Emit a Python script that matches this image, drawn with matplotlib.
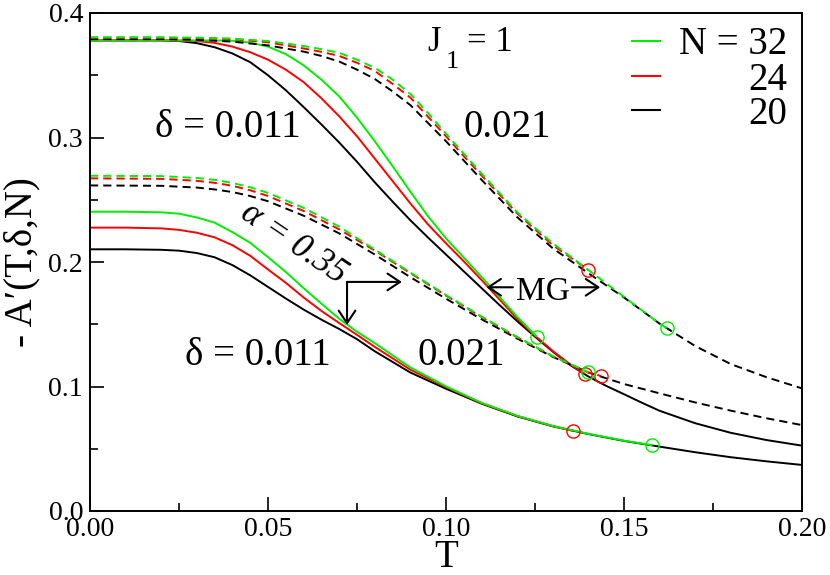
import matplotlib
matplotlib.use('Agg')
import matplotlib.pyplot as plt
from matplotlib.ticker import MultipleLocator, FormatStrFormatter

plt.rcParams['font.family'] = 'serif'
plt.rcParams['font.serif'] = ['Liberation Serif', 'Times New Roman', 'DejaVu Serif']

# ---------------- data ----------------
# MG, delta = 0.011 (solid)
mg_s20_T = [0, 0.02, 0.025, 0.03, 0.035, 0.04, 0.045, 0.05, 0.055, 0.06, 0.065, 0.07, 0.075, 0.08, 0.085, 0.09, 0.095, 0.10, 0.105, 0.11, 0.115, 0.12, 0.125, 0.13, 0.135, 0.14, 0.145, 0.15, 0.155, 0.16, 0.17, 0.18, 0.19, 0.20]
mg_s20_A = [0.378, 0.378, 0.3775, 0.3758, 0.3725, 0.3675, 0.3605, 0.3500, 0.3380, 0.3245, 0.3105, 0.2960, 0.2805, 0.2640, 0.2485, 0.2335, 0.2195, 0.2060, 0.1925, 0.1790, 0.1655, 0.1525, 0.1400, 0.1280, 0.1170, 0.1080, 0.1005, 0.0938, 0.0870, 0.0805, 0.0705, 0.0628, 0.0570, 0.0525]
mg_s24_T = [0, 0.02, 0.03, 0.035, 0.04, 0.045, 0.05, 0.055, 0.06, 0.065, 0.07, 0.075, 0.08, 0.085, 0.09, 0.095, 0.10, 0.105, 0.11, 0.115, 0.12, 0.125, 0.13, 0.135, 0.139]
mg_s24_A = [0.378, 0.378, 0.3775, 0.3760, 0.3730, 0.3685, 0.3625, 0.3545, 0.3445, 0.3315, 0.3170, 0.3010, 0.2830, 0.2650, 0.2470, 0.2300, 0.2150, 0.2005, 0.1855, 0.1700, 0.1545, 0.1408, 0.1285, 0.1175, 0.1102]
mg_s32_T = [0, 0.03, 0.04, 0.045, 0.05, 0.055, 0.06, 0.065, 0.07, 0.075, 0.08, 0.085, 0.09, 0.095, 0.10, 0.105, 0.11, 0.115, 0.12, 0.1255]
mg_s32_A = [0.378, 0.378, 0.3778, 0.3762, 0.3730, 0.3670, 0.3580, 0.3465, 0.3330, 0.3160, 0.2970, 0.2770, 0.2565, 0.2365, 0.2190, 0.2035, 0.1880, 0.1720, 0.1560, 0.1400]

# MG, delta = 0.021 (dashed)
mg_d20_T = [0, 0.02, 0.03, 0.04, 0.05, 0.06, 0.065, 0.07, 0.075, 0.08, 0.085, 0.09, 0.095, 0.10, 0.105, 0.11, 0.12, 0.13, 0.14, 0.15, 0.16, 0.17, 0.18, 0.19, 0.20]
mg_d20_A = [0.379, 0.379, 0.3785, 0.377, 0.374, 0.369, 0.3655, 0.361, 0.3545, 0.347, 0.337, 0.326, 0.3115, 0.297, 0.2815, 0.266, 0.236, 0.211, 0.191, 0.1715, 0.1505, 0.1325, 0.118, 0.1075, 0.0985]
mg_d24_T = [0, 0.02, 0.03, 0.04, 0.05, 0.06, 0.065, 0.07, 0.075, 0.08, 0.085, 0.09, 0.095, 0.10, 0.105, 0.11, 0.12, 0.13, 0.14]
mg_d24_A = [0.3802, 0.3802, 0.3798, 0.379, 0.3765, 0.3715, 0.3688, 0.3655, 0.3600, 0.3535, 0.3430, 0.332, 0.3165, 0.301, 0.2850, 0.2695, 0.239, 0.2135, 0.1936]
mg_d32_T = [0, 0.02, 0.03, 0.04, 0.05, 0.06, 0.065, 0.07, 0.075, 0.08, 0.085, 0.09, 0.095, 0.10, 0.105, 0.11, 0.12, 0.13, 0.14, 0.15, 0.16, 0.162]
mg_d32_A = [0.3805, 0.3805, 0.3802, 0.3795, 0.3775, 0.3735, 0.3710, 0.3680, 0.3625, 0.3560, 0.3465, 0.3350, 0.3195, 0.3030, 0.2870, 0.2710, 0.2400, 0.2150, 0.1936, 0.1720, 0.1505, 0.1468]

# alpha = 0.35, delta = 0.011 (solid)
a_s20_T = [0, 0.01, 0.02, 0.025, 0.03, 0.035, 0.04, 0.045, 0.05, 0.055, 0.06, 0.065, 0.07, 0.075, 0.08, 0.09, 0.10, 0.11, 0.12, 0.13, 0.14, 0.15, 0.16, 0.17, 0.18, 0.19, 0.20]
a_s20_A = [0.2102, 0.2102, 0.2098, 0.2091, 0.2072, 0.2038, 0.1975, 0.1893, 0.1800, 0.1707, 0.1618, 0.1537, 0.1462, 0.1380, 0.1283, 0.1112, 0.0982, 0.0862, 0.0760, 0.0680, 0.0618, 0.0563, 0.0517, 0.0472, 0.0432, 0.0399, 0.0370]
a_s24_T = [0, 0.01, 0.02, 0.025, 0.03, 0.035, 0.04, 0.045, 0.05, 0.055, 0.06, 0.065, 0.07, 0.075, 0.08, 0.09, 0.10, 0.11, 0.12, 0.13, 0.1356]
a_s24_A = [0.2276, 0.2276, 0.2270, 0.2258, 0.2235, 0.2198, 0.2135, 0.2050, 0.1940, 0.1833, 0.1715, 0.1607, 0.1510, 0.1415, 0.1318, 0.1135, 0.0995, 0.0866, 0.0763, 0.0682, 0.0645]
a_s32_T = [0, 0.01, 0.02, 0.025, 0.03, 0.035, 0.04, 0.045, 0.05, 0.055, 0.06, 0.065, 0.07, 0.075, 0.08, 0.09, 0.10, 0.11, 0.12, 0.13, 0.14, 0.15, 0.158]
a_s32_A = [0.2404, 0.2404, 0.2399, 0.2388, 0.2358, 0.2316, 0.2240, 0.2154, 0.2039, 0.1920, 0.1790, 0.1666, 0.1544, 0.1440, 0.1348, 0.1153, 0.1001, 0.0869, 0.0765, 0.0683, 0.0620, 0.0565, 0.0528]

# alpha = 0.35, delta = 0.021 (dashed)
a_d20_T = [0, 0.02, 0.03, 0.035, 0.04, 0.045, 0.05, 0.06, 0.07, 0.08, 0.09, 0.10, 0.11, 0.12, 0.13, 0.14, 0.15, 0.16, 0.17, 0.18, 0.19, 0.20]
a_d20_A = [0.2615, 0.2612, 0.2598, 0.2583, 0.2562, 0.2530, 0.2488, 0.2372, 0.2230, 0.2060, 0.1878, 0.1705, 0.1540, 0.1385, 0.1238, 0.1112, 0.1020, 0.0945, 0.0872, 0.0806, 0.0745, 0.0690]
a_d24_T = [0, 0.02, 0.03, 0.035, 0.04, 0.045, 0.05, 0.06, 0.07, 0.08, 0.09, 0.10, 0.11, 0.12, 0.13, 0.14, 0.1435]
a_d24_A = [0.2672, 0.2668, 0.2652, 0.2636, 0.2612, 0.2576, 0.2530, 0.2410, 0.2262, 0.2092, 0.1910, 0.1730, 0.1558, 0.1395, 0.1242, 0.1113, 0.1085]
a_d32_T = [0, 0.02, 0.03, 0.035, 0.04, 0.045, 0.05, 0.06, 0.07, 0.08, 0.09, 0.10, 0.11, 0.12, 0.13, 0.14]
a_d32_A = [0.2693, 0.2690, 0.2675, 0.2660, 0.2635, 0.2600, 0.2555, 0.2435, 0.2284, 0.2100, 0.1915, 0.1735, 0.1562, 0.1398, 0.1244, 0.1115]

legend_labels = ['N = 32', '24', '20']
x_ticks = [0.00, 0.05, 0.10, 0.15, 0.20]
y_ticks = [0.0, 0.1, 0.2, 0.3, 0.4]

GREEN = '#00ee00'
RED = '#ff0000'
BLACK = '#000000'

# ---------------- figure ----------------
fig = plt.figure(figsize=(8.3, 5.75), dpi=100)
ax = fig.add_axes([90 / 830, 64 / 575, 712 / 830, 498 / 575])

series = [
    (mg_s20_T, mg_s20_A, BLACK, '-', False),
    (mg_s24_T, mg_s24_A, RED, '-', True),
    (mg_s32_T, mg_s32_A, GREEN, '-', True),
    (mg_d20_T, mg_d20_A, BLACK, '--', False),
    (mg_d24_T, mg_d24_A, RED, '--', True),
    (mg_d32_T, mg_d32_A, GREEN, '--', True),
    (a_s20_T, a_s20_A, BLACK, '-', False),
    (a_s24_T, a_s24_A, RED, '-', True),
    (a_s32_T, a_s32_A, GREEN, '-', True),
    (a_d20_T, a_d20_A, BLACK, '--', False),
    (a_d24_T, a_d24_A, RED, '--', True),
    (a_d32_T, a_d32_A, GREEN, '--', True),
]
for T, A, col, ls, mark in series:
    line, = ax.plot(T, A, color=col, lw=1.4, ls=ls, solid_capstyle='butt',
                    solid_joinstyle='round')
    if ls == '--':
        line.set_dashes((4.2, 2.6))
    if mark:
        ax.plot(T[-1], A[-1], 'o', mfc='none', mec=col, ms=9.5, mew=1.0, zorder=5)

ax.set_xlim(0, 0.2)
ax.set_ylim(0, 0.4)
ax.set_xticks(x_ticks)
ax.set_yticks(y_ticks)
ax.xaxis.set_major_formatter(FormatStrFormatter('%.2f'))
ax.yaxis.set_major_formatter(FormatStrFormatter('%.1f'))
ax.xaxis.set_minor_locator(MultipleLocator(0.025))
ax.yaxis.set_minor_locator(MultipleLocator(0.05))
ax.tick_params(which='both', direction='in', top=False, right=False, width=1.2, labelsize=20)
ax.tick_params(which='major', length=10)
ax.tick_params(which='minor', length=5.8)
ax.tick_params(axis='y', pad=5)
ax.tick_params(axis='x', pad=4)
for sp in ax.spines.values():
    sp.set_linewidth(1.4)

ax.set_xlabel('T', fontsize=28)
ax.xaxis.set_label_coords(0.5, -0.056)
ax.set_ylabel('- A\u2032(T,\u03b4,N)', fontsize=28,
              family=['Liberation Serif', 'DejaVu Serif'])
ax.yaxis.set_label_coords(-0.070, 0.5)

# annotations
ax.text(0.0183, 0.3004, '\u03b4 = 0.011', fontsize=28, ha='left', va='baseline')
ax.text(0.1048, 0.3004, '0.021', fontsize=28, ha='left', va='baseline')
ax.text(0.0267, 0.1173, '\u03b4 = 0.011', fontsize=28, ha='left', va='baseline')
ax.text(0.0921, 0.1173, '0.021', fontsize=28, ha='left', va='baseline')

ax.text(0.0573, 0.2145, '\u03b1 = 0.35', fontsize=25, style='italic', rotation=-34,
        ha='center', va='center', rotation_mode='anchor')

ax.text(0.0948, 0.3695, 'J', fontsize=25, ha='left', va='baseline')
ax.text(0.0998, 0.3555, '1', fontsize=19, ha='left', va='baseline')
ax.text(0.1058, 0.3695, '= 1', fontsize=25, ha='left', va='baseline')

ax.text(0.1271, 0.1695, 'MG', fontsize=24, ha='center', va='baseline')

arw = dict(arrowstyle='->,head_length=0.45,head_width=0.3', lw=1.5, color='black',
           shrinkA=0, shrinkB=0, mutation_scale=20)
ax.annotate('', xy=(0.1114, 0.1797), xytext=(0.1188, 0.1797), arrowprops=arw)
ax.annotate('', xy=(0.1433, 0.1797), xytext=(0.1354, 0.1797), arrowprops=arw)
ax.annotate('', xy=(0.0876, 0.184), xytext=(0.0722, 0.184), arrowprops=arw)
ax.annotate('', xy=(0.0722, 0.1494), xytext=(0.0722, 0.184), arrowprops=arw)

# legend (drawn by hand to get right-aligned labels)
leg_cols = [GREEN, RED, BLACK]
leg_line_y = [0.9444, 0.8735, 0.8052]
leg_text_y = [0.9177, 0.8454, 0.7770]
for lab, col, ly, ty in zip(legend_labels, leg_cols, leg_line_y, leg_text_y):
    ax.plot([0.761, 0.8006], [ly, ly], transform=ax.transAxes, color=col, lw=1.5)
    ax.text(0.979, ty, lab, transform=ax.transAxes, fontsize=28, ha='right', va='baseline')

fig.savefig('out.png', dpi=100)
